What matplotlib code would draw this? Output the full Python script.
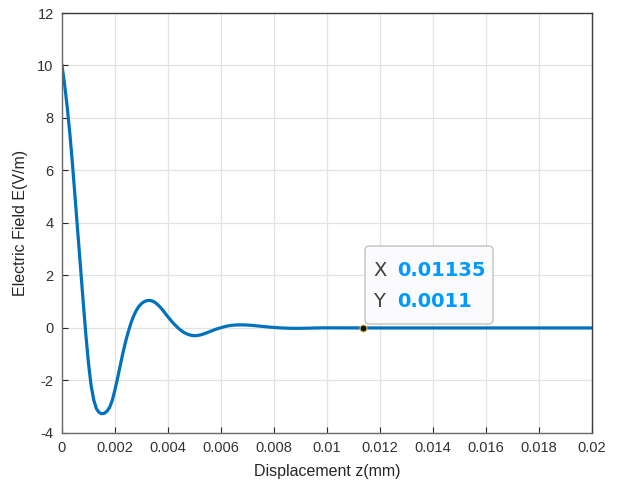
import matplotlib
matplotlib.use("Agg")
import matplotlib.pyplot as plt
from matplotlib.patches import FancyBboxPatch
import numpy as np

plt.rcParams['font.family'] = ['Liberation Sans', 'DejaVu Sans']
plt.rcParams['axes.unicode_minus'] = False

# displacement z (mm) and field E (V/m) along the curve
z = [0.0, 0.0001, 0.0002, 0.0003, 0.0004, 0.0005, 0.0006, 0.0007, 0.0008, 0.0009,
     0.0010, 0.0011, 0.0012, 0.0013, 0.0014, 0.0015, 0.0016, 0.0017, 0.0018, 0.0019,
     0.0020, 0.0021, 0.0022, 0.0023, 0.0024, 0.0025, 0.0026, 0.0027, 0.0028, 0.0029,
     0.0030, 0.0031, 0.0032, 0.0033, 0.0034, 0.0035, 0.0036, 0.0037, 0.0038, 0.0039,
     0.0040, 0.0041, 0.0042, 0.0043, 0.0044, 0.0045, 0.0046, 0.0047, 0.0048, 0.0049,
     0.0050, 0.0051, 0.0052, 0.0053, 0.0054, 0.0055, 0.0056, 0.0057, 0.0058, 0.0059,
     0.0060, 0.0061, 0.0062, 0.0063, 0.0064, 0.0065, 0.0066, 0.0067, 0.0068, 0.0069,
     0.0070, 0.0072, 0.0074, 0.0076, 0.0078, 0.0080, 0.0082, 0.0084, 0.0086, 0.0088,
     0.0090, 0.0092, 0.0094, 0.0096, 0.0098, 0.0100, 0.0105, 0.0110, 0.01135, 0.0120,
     0.0130, 0.0140, 0.0150, 0.0160, 0.0170, 0.0180, 0.0190, 0.0200]
E = [10.0, 9.27, 8.39, 7.37, 6.19, 4.9, 3.6, 2.3, 1.0, -0.25,
     -1.35, -2.2, -2.75, -3.08, -3.22, -3.27, -3.25, -3.17, -3.02, -2.75,
     -2.35, -1.9, -1.42, -0.95, -0.52, -0.15, 0.18, 0.45, 0.66, 0.82,
     0.93, 1.0, 1.04, 1.05, 1.03, 0.98, 0.9, 0.8, 0.68, 0.55,
     0.42, 0.3, 0.18, 0.08, -0.02, -0.1, -0.17, -0.22, -0.26, -0.285,
     -0.295, -0.29, -0.27, -0.245, -0.21, -0.17, -0.13, -0.09, -0.05, -0.02,
     0.01, 0.04, 0.065, 0.085, 0.1, 0.11, 0.115, 0.118, 0.118, 0.115,
     0.11, 0.095, 0.075, 0.055, 0.035, 0.02, 0.005, -0.005, -0.012, -0.015,
     -0.014, -0.01, -0.005, 0.0, 0.003, 0.004, 0.003, 0.0015, 0.0011, 0.0,
     0.0, 0.0, 0.0, 0.0, 0.0, 0.0, 0.0, 0.0]

tip_x = 0.01135
tip_y = 0.0011

fig = plt.figure(figsize=(6.18, 4.87), dpi=100)
ax = fig.add_axes([0.1003, 0.111, 0.8577, 0.8623])

ax.plot(z, E, color='#0072BD', lw=2.3, solid_joinstyle='round')

ax.set_xlim(0, 0.02)
ax.set_ylim(-4, 12)
ax.set_xticks(np.arange(0, 0.0201, 0.002))
ax.set_xticklabels(['0', '0.002', '0.004', '0.006', '0.008', '0.01', '0.012',
                    '0.014', '0.016', '0.018', '0.02'])
ax.set_yticks(np.arange(-4, 13, 2))
ax.grid(True, color='#e3e3e3', lw=0.9)
ax.set_axisbelow(True)
ax.tick_params(direction='in', length=4, width=0.8, colors='#262626',
               labelsize=10.5, labelcolor='#333333', pad=6)
for s in ['left', 'bottom']:
    ax.spines[s].set_color('#6a6a6a')
for s in ['top', 'right']:
    ax.spines[s].set_color('#3a3a3a')
for s in ax.spines.values():
    s.set_linewidth(1.0)

ax.set_xlabel('Displacement z(mm)', fontsize=11.5, color='#262626', labelpad=6)
ax.set_ylabel('Electric Field E(V/m)', fontsize=11.5, color='#262626', labelpad=7)

# data tip
ax.plot([tip_x], [tip_y], 'o', ms=5, mfc='#111111', mec='#d8c060', mew=0.8, zorder=5)
box = FancyBboxPatch((0.5717, 0.2595), 0.2415, 0.1855, transform=ax.transAxes,
                     boxstyle='round,pad=0,rounding_size=0.008', mutation_aspect=1.26,
                     fc='#fbfbfd', ec='#c0c0c0', lw=1.0, alpha=0.95, zorder=4)
ax.add_patch(box)
tip_font = ['DejaVu Sans']
ax.text(0.587, 0.388, 'X', transform=ax.transAxes, fontsize=14,
        family=tip_font, color='#404040', va='center', zorder=6)
ax.text(0.6315, 0.388, f'{tip_x:g}', transform=ax.transAxes, fontsize=14,
        family=tip_font, color='#0099FF', fontweight='bold', va='center', zorder=6)
ax.text(0.587, 0.3126, 'Y', transform=ax.transAxes, fontsize=14,
        family=tip_font, color='#404040', va='center', zorder=6)
ax.text(0.6315, 0.3126, f'{tip_y:g}', transform=ax.transAxes, fontsize=14,
        family=tip_font, color='#0099FF', fontweight='bold', va='center', zorder=6)

fig.savefig('out.png', dpi=100)
